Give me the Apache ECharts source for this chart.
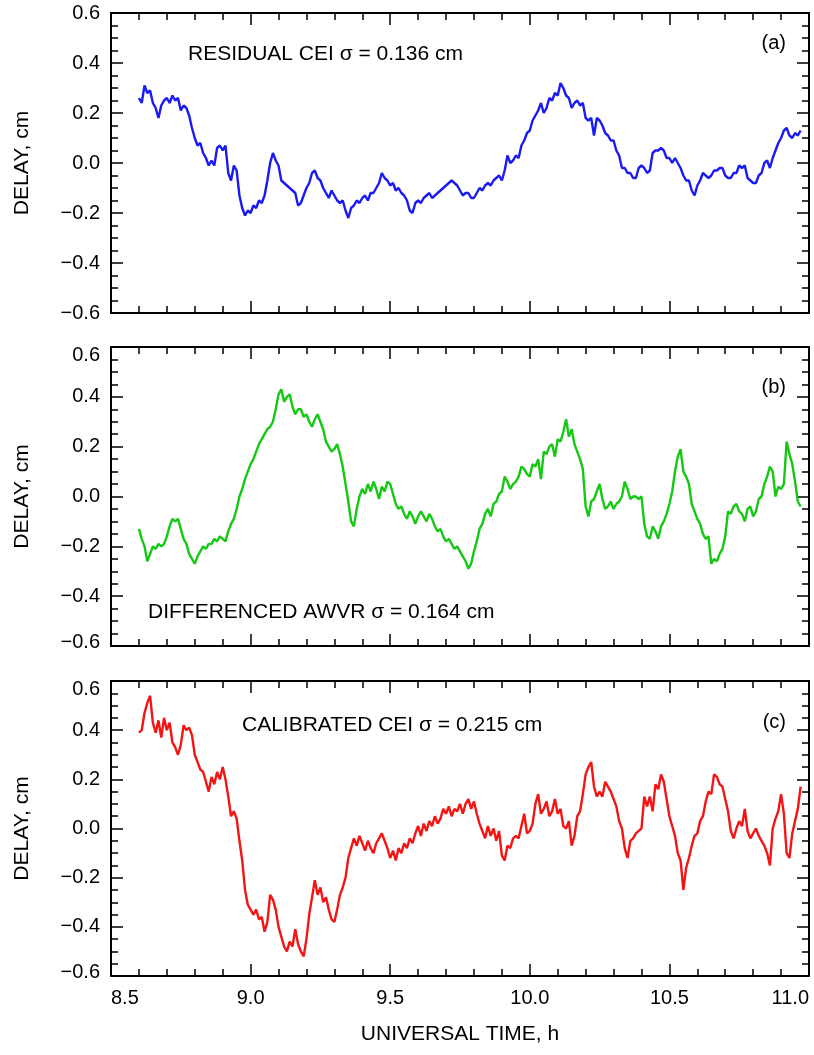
<!DOCTYPE html>
<html>
<head>
<meta charset="utf-8">
<script src="https://cdn.jsdelivr.net/npm/echarts@6/dist/echarts.min.js"></script>
<style>
html,body{margin:0;padding:0;background:#fff;}
#chart{width:814px;height:1055px;}
</style>
</head>
<body>
<div id="chart"></div>
<script>
// ---- data ----
const TIME = [
8.60,8.61,8.62,8.63,8.64,8.65,8.66,8.67,8.68,8.69,
8.70,8.71,8.72,8.73,8.74,8.75,8.76,8.77,8.78,8.79,
8.80,8.81,8.82,8.83,8.84,8.85,8.86,8.87,8.88,8.89,
8.90,8.91,8.92,8.93,8.94,8.95,8.96,8.97,8.98,8.99,
9.00,9.01,9.02,9.03,9.04,9.05,9.06,9.07,9.08,9.09,
9.10,9.11,9.12,9.13,9.14,9.15,9.16,9.17,9.18,9.19,
9.20,9.21,9.22,9.23,9.24,9.25,9.26,9.27,9.28,9.29,
9.30,9.31,9.32,9.33,9.34,9.35,9.36,9.37,9.38,9.39,
9.40,9.41,9.42,9.43,9.44,9.45,9.46,9.47,9.48,9.49,
9.50,9.51,9.52,9.53,9.54,9.55,9.56,9.57,9.58,9.59,
9.60,9.61,9.62,9.63,9.64,9.65,9.66,9.67,9.68,9.69,
9.70,9.71,9.72,9.73,9.74,9.75,9.76,9.77,9.78,9.79,
9.80,9.81,9.82,9.83,9.84,9.85,9.86,9.87,9.88,9.89,
9.90,9.91,9.92,9.93,9.94,9.95,9.96,9.97,9.98,9.99,
10.00,10.01,10.02,10.03,10.04,10.05,10.06,10.07,10.08,10.09,
10.10,10.11,10.12,10.13,10.14,10.15,10.16,10.17,10.18,10.19,
10.20,10.21,10.22,10.23,10.24,10.25,10.26,10.27,10.28,10.29,
10.30,10.31,10.32,10.33,10.34,10.35,10.36,10.37,10.38,10.39,
10.40,10.41,10.42,10.43,10.44,10.45,10.46,10.47,10.48,10.49,
10.50,10.51,10.52,10.53,10.54,10.55,10.56,10.57,10.58,10.59,
10.60,10.61,10.62,10.63,10.64,10.65,10.66,10.67,10.68,10.69,
10.70,10.71,10.72,10.73,10.74,10.75,10.76,10.77,10.78,10.79,
10.80,10.81,10.82,10.83,10.84,10.85,10.86,10.87,10.88,10.89,
10.90,10.91,10.92,10.93,10.94,10.95,10.96,10.97
];

const RESIDUAL_CEI = [
0.26,0.24,0.31,0.28,0.29,0.24,0.22,0.18,0.23,0.25,
0.26,0.24,0.27,0.25,0.26,0.21,0.23,0.22,0.19,0.14,
0.10,0.07,0.08,0.04,0.02,-0.01,0.01,-0.01,0.06,0.07,
0.05,0.07,-0.04,-0.07,-0.01,-0.03,-0.13,-0.18,-0.21,-0.19,
-0.20,-0.17,-0.18,-0.15,-0.16,-0.13,-0.07,0.00,0.04,0.01,
-0.01,-0.07,-0.08,-0.09,-0.10,-0.11,-0.12,-0.17,-0.16,-0.13,
-0.10,-0.08,-0.04,-0.03,-0.06,-0.07,-0.10,-0.12,-0.14,-0.11,
-0.13,-0.15,-0.16,-0.15,-0.19,-0.22,-0.18,-0.17,-0.15,-0.16,
-0.14,-0.13,-0.15,-0.12,-0.12,-0.10,-0.08,-0.04,-0.06,-0.07,
-0.09,-0.08,-0.11,-0.10,-0.12,-0.13,-0.15,-0.19,-0.20,-0.16,
-0.15,-0.16,-0.14,-0.13,-0.12,-0.14,-0.13,-0.12,-0.11,-0.10,
-0.09,-0.08,-0.07,-0.08,-0.09,-0.11,-0.13,-0.12,-0.12,-0.14,
-0.14,-0.12,-0.10,-0.11,-0.09,-0.08,-0.09,-0.07,-0.06,-0.05,
-0.07,-0.03,0.03,0.00,0.01,0.03,0.02,0.07,0.09,0.12,
0.13,0.17,0.19,0.21,0.24,0.20,0.22,0.26,0.25,0.28,
0.27,0.32,0.30,0.27,0.26,0.22,0.24,0.25,0.23,0.24,
0.18,0.17,0.18,0.11,0.18,0.17,0.15,0.12,0.11,0.09,
0.09,0.05,0.03,-0.02,-0.02,-0.04,-0.04,-0.06,-0.06,-0.02,
-0.01,-0.02,-0.04,-0.03,0.04,0.05,0.05,0.06,0.05,0.02,
0.02,0.00,0.02,0.00,-0.02,-0.05,-0.07,-0.07,-0.11,-0.13,
-0.09,-0.07,-0.04,-0.05,-0.06,-0.05,-0.03,-0.03,-0.02,-0.02,
-0.05,-0.06,-0.06,-0.04,-0.04,-0.01,-0.02,-0.01,-0.06,-0.07,
-0.08,-0.08,-0.05,-0.04,0.00,0.01,-0.02,0.02,0.05,0.08,
0.10,0.13,0.14,0.11,0.10,0.12,0.11,0.13
];

const DIFFERENCED_AWVR = [
-0.13,-0.17,-0.20,-0.26,-0.23,-0.20,-0.21,-0.19,-0.20,-0.19,
-0.16,-0.12,-0.09,-0.10,-0.09,-0.13,-0.17,-0.19,-0.23,-0.25,
-0.27,-0.24,-0.22,-0.20,-0.21,-0.19,-0.19,-0.17,-0.18,-0.16,
-0.17,-0.18,-0.14,-0.11,-0.09,-0.05,0.00,0.03,0.07,0.10,
0.13,0.15,0.18,0.21,0.23,0.25,0.27,0.28,0.30,0.35,
0.41,0.43,0.38,0.40,0.41,0.36,0.33,0.35,0.35,0.32,
0.33,0.30,0.28,0.31,0.33,0.30,0.27,0.22,0.20,0.18,
0.19,0.21,0.17,0.12,0.05,-0.02,-0.10,-0.12,-0.05,0.00,
0.03,0.01,0.05,0.02,0.06,0.03,-0.01,0.04,0.02,0.06,
0.05,0.01,-0.03,-0.05,-0.04,-0.07,-0.09,-0.06,-0.08,-0.11,
-0.08,-0.06,-0.08,-0.10,-0.07,-0.09,-0.12,-0.14,-0.13,-0.16,
-0.18,-0.17,-0.19,-0.21,-0.20,-0.22,-0.24,-0.26,-0.29,-0.27,
-0.22,-0.18,-0.13,-0.11,-0.07,-0.05,-0.08,-0.03,-0.02,0.01,
0.02,0.08,0.06,0.03,0.05,0.06,0.08,0.12,0.11,0.09,
0.08,0.13,0.12,0.15,0.07,0.18,0.17,0.20,0.21,0.16,
0.23,0.22,0.26,0.31,0.24,0.27,0.21,0.18,0.15,0.11,
-0.04,-0.08,-0.02,-0.01,0.02,0.05,-0.01,-0.05,-0.04,-0.02,
-0.05,-0.03,-0.02,0.00,0.06,0.03,-0.01,0.00,0.00,-0.01,
0.00,-0.11,-0.16,-0.17,-0.12,-0.14,-0.17,-0.12,-0.10,-0.07,
-0.03,0.02,0.10,0.16,0.19,0.10,0.08,0.05,-0.03,-0.06,
-0.09,-0.11,-0.15,-0.17,-0.16,-0.27,-0.25,-0.26,-0.23,-0.21,
-0.16,-0.06,-0.07,-0.04,-0.03,-0.06,-0.07,-0.10,-0.05,-0.04,
-0.08,-0.06,-0.01,0.00,0.05,0.08,0.12,0.10,0.00,0.04,
0.03,0.05,0.22,0.17,0.13,0.06,-0.02,-0.04
];

const CALIBRATED_CEI = [
0.39,0.40,0.47,0.51,0.54,0.43,0.39,0.44,0.37,0.45,
0.40,0.43,0.35,0.33,0.30,0.34,0.42,0.40,0.41,0.38,
0.30,0.27,0.24,0.23,0.19,0.15,0.21,0.18,0.23,0.20,
0.25,0.20,0.13,0.05,0.07,0.04,-0.05,-0.13,-0.25,-0.31,
-0.33,-0.35,-0.33,-0.37,-0.36,-0.42,-0.38,-0.27,-0.29,-0.33,
-0.40,-0.44,-0.48,-0.50,-0.46,-0.48,-0.41,-0.47,-0.50,-0.52,
-0.45,-0.35,-0.28,-0.21,-0.27,-0.24,-0.30,-0.28,-0.33,-0.37,
-0.38,-0.33,-0.27,-0.24,-0.20,-0.12,-0.08,-0.04,-0.07,-0.03,
-0.06,-0.09,-0.05,-0.08,-0.10,-0.06,-0.04,-0.02,-0.05,-0.08,
-0.12,-0.09,-0.13,-0.08,-0.10,-0.06,-0.08,-0.04,-0.06,-0.02,
0.01,-0.03,0.02,-0.01,0.03,0.01,0.05,0.02,0.04,0.08,
0.06,0.09,0.05,0.08,0.07,0.10,0.06,0.10,0.12,0.08,
0.11,0.06,0.02,-0.01,-0.04,0.01,-0.03,0.00,-0.05,-0.01,
-0.11,-0.13,-0.07,-0.08,-0.04,-0.03,-0.04,0.01,0.06,-0.02,
-0.01,0.02,0.10,0.14,0.06,0.08,0.11,0.05,0.07,0.12,
0.06,0.08,0.01,0.00,0.03,-0.07,-0.03,0.05,0.07,0.14,
0.22,0.25,0.27,0.17,0.13,0.15,0.13,0.19,0.17,0.15,
0.12,0.09,0.03,0.00,-0.08,-0.12,-0.05,-0.04,-0.02,-0.01,
0.00,0.13,0.09,0.13,0.07,0.18,0.16,0.22,0.19,0.12,
0.05,0.01,-0.03,-0.10,-0.13,-0.25,-0.16,-0.12,-0.07,-0.03,
-0.02,0.03,0.05,0.11,0.15,0.14,0.22,0.21,0.18,0.17,
0.12,0.07,-0.01,-0.04,0.00,0.03,0.01,0.08,-0.01,-0.04,
-0.02,0.00,-0.03,-0.05,-0.07,-0.10,-0.15,0.00,0.04,0.07,
0.14,0.06,-0.10,-0.12,-0.02,0.03,0.08,0.17
];

const X_TICKS = [8.5, 9.0, 9.5, 10.0, 10.5, 11.0];
const Y_TICKS = [-0.6, -0.4, -0.2, 0.0, 0.2, 0.4, 0.6];
const SERIES_NAMES = ['RESIDUAL CEI', 'DIFFERENCED AWVR', 'CALIBRATED CEI'];
const SIGMAS = [0.136, 0.164, 0.215];
const PANEL_TAGS = ['(a)', '(b)', '(c)'];
const Y_TITLE = 'DELAY, cm';
const X_TITLE = 'UNIVERSAL TIME, h';

// ---- chart ----
const FONT = '"Liberation Sans", Arial, Helvetica, sans-serif';
const FS = 20;      // tick labels
const FS_T = 21;    // titles and annotations
const COLORS = ['#1a1af2', '#14c814', '#f41414'];
const VALUES = [RESIDUAL_CEI, DIFFERENCED_AWVR, CALIBRATED_CEI];
const LAYOUT = [
  {top: 13, height: 300},
  {top: 347, height: 299},
  {top: 681, height: 295}
];
const yMin = Y_TICKS[0], yMax = Y_TICKS[Y_TICKS.length - 1], yInt = Y_TICKS[1] - Y_TICKS[0];
const xMin = X_TICKS[0], xMax = X_TICKS[X_TICKS.length - 1], xInt = X_TICKS[1] - X_TICKS[0];

function fmtNum(v) {
  const r = Math.round(v * 10) / 10;
  if (Math.abs(r) < 1e-9) return '0.0';
  return (r < 0 ? '\u2212' : '') + Math.abs(r).toFixed(1);
}
function makeYFmt(shiftEnds) {
  return v => {
    const s = fmtNum(v);
    if (shiftEnds && Math.abs(v - yMax) < 1e-9) return '{top|' + s + '}';
    if (shiftEnds && Math.abs(v - yMin) < 1e-9) return '{bot|' + s + '}';
    return s;
  };
}
const richEnds = {
  top: {fontSize: FS, fontFamily: FONT, color: '#000', padding: [16, 0, 0, 0]},
  bot: {fontSize: FS, fontFamily: FONT, color: '#000', padding: [0, 0, 8, 0]}
};

const axisLine = {show: true, onZero: false, lineStyle: {color: '#000', width: 2}};
const xTick = {show: true, inside: true, length: 12, lineStyle: {color: '#000', width: 1.5}};
const xMinor = {show: true, splitNumber: 5, length: 7, lineStyle: {color: '#000', width: 1.5}};
const yTick = {show: true, inside: true, length: 12, lineStyle: {color: '#000', width: 1.5}};
const yMinor = {show: true, splitNumber: 4, length: 7, lineStyle: {color: '#000', width: 1.5}};

const grid = [], xAxis = [], yAxis = [], series = [], graphic = [];
LAYOUT.forEach((L, i) => {
  grid.push({left: 111, right: 5, top: L.top, height: L.height, containLabel: false});
  const last = i === LAYOUT.length - 1;
  xAxis.push({
    type: 'value', gridIndex: i, position: 'bottom', min: xMin, max: xMax, interval: xInt,
    axisLine, axisTick: xTick, minorTick: xMinor, splitLine: {show: false},
    axisLabel: {show: last, margin: 12, fontSize: FS, fontFamily: FONT, color: '#000',
      formatter: v => fmtNum(v), alignMinLabel: 'left', alignMaxLabel: 'right'},
    name: last ? X_TITLE : '', nameLocation: 'middle', nameGap: 48,
    nameTextStyle: {fontSize: FS_T, fontFamily: FONT, color: '#000'}
  });
  xAxis.push({
    type: 'value', gridIndex: i, position: 'top', min: xMin, max: xMax, interval: xInt,
    axisLine, axisTick: xTick, minorTick: xMinor, splitLine: {show: false},
    axisLabel: {show: false}
  });
  yAxis.push({
    type: 'value', gridIndex: i, position: 'left', min: yMin, max: yMax, interval: yInt,
    axisLine, axisTick: yTick, minorTick: yMinor, splitLine: {show: false},
    axisLabel: {show: true, margin: 11, fontSize: FS, fontFamily: FONT, color: '#000',
      formatter: makeYFmt(i > 0), rich: richEnds},
    name: Y_TITLE, nameLocation: 'middle', nameGap: 78, nameRotate: 90,
    nameTextStyle: {fontSize: FS_T, fontFamily: FONT, color: '#000'}
  });
  yAxis.push({
    type: 'value', gridIndex: i, position: 'right', min: yMin, max: yMax, interval: yInt,
    axisLine, axisTick: yTick, minorTick: yMinor, splitLine: {show: false},
    axisLabel: {show: false}
  });
  series.push({
    type: 'line', name: SERIES_NAMES[i], xAxisIndex: i * 2, yAxisIndex: i * 2,
    data: TIME.map((t, k) => [t, VALUES[i][k]]),
    showSymbol: false, symbol: 'none', smooth: false,
    lineStyle: {color: COLORS[i], width: 2.4}, itemStyle: {color: COLORS[i]},
    clip: true
  });
});

const annot = [
  {x: 188, y: 54},
  {x: 148, y: 612},
  {x: 242, y: 725}
];
const tagPos = [{x: 786, y: 43}, {x: 786, y: 387}, {x: 786, y: 722}];
annot.forEach((p, i) => {
  graphic.push({
    type: 'text', left: p.x, top: p.y - FS_T / 2,
    style: {text: SERIES_NAMES[i] + ' \u03c3 = ' + SIGMAS[i].toFixed(3) + ' cm',
      font: FS_T + 'px ' + FONT, fill: '#000'}
  });
  graphic.push({
    type: 'text', right: 814 - tagPos[i].x, top: tagPos[i].y - FS / 2,
    style: {text: PANEL_TAGS[i], font: FS + 'px ' + FONT, fill: '#000'}
  });
});

const chart = echarts.init(document.getElementById('chart'), null, {renderer: 'canvas'});
chart.setOption({
  animation: false,
  backgroundColor: '#fff',
  grid, xAxis, yAxis, series, graphic
});
</script>
</body>
</html>
